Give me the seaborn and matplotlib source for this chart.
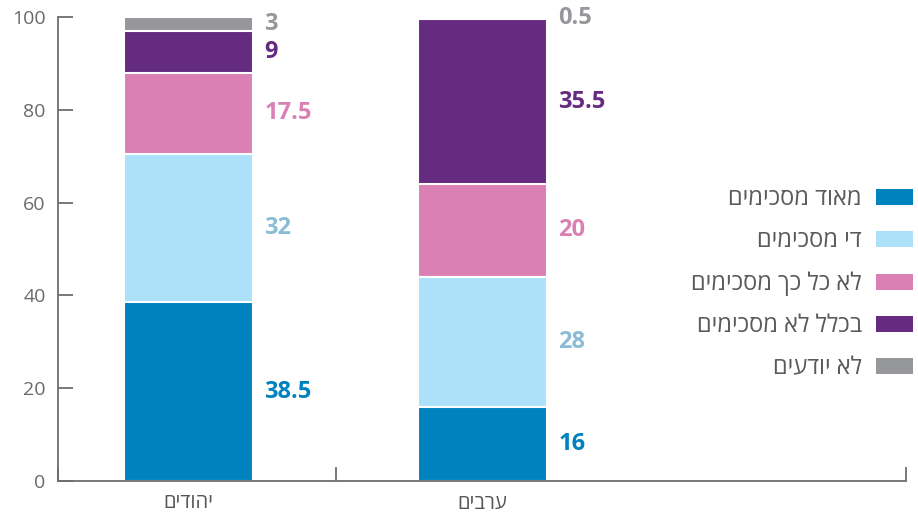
import numpy as np
import pandas as pd
import seaborn as sns
from matplotlib import pyplot as plt
from matplotlib.patches import Patch

# groups (Jews, Arabs) and answer categories, bottom -> top
groups = ['יהודים', 'ערבים']
answers = ['מאוד מסכימים', 'די מסכימים', 'לא כל כך מסכימים', 'בכלל לא מסכימים', 'לא יודעים']
strongly_agree = [38.5, 16]
somewhat_agree = [32, 28]
not_really = [17.5, 20]
not_at_all = [9, 35.5]
dont_know = [3, 0.5]

bar_colors = ['#0082be', '#ade1fa', '#db80b4', '#642b80', '#96979a']
text_colors = ['#0082be', '#8bbcd6', '#db80b4', '#642b80', '#96979a']


def heb(s):
    # matplotlib has no bidi support, so flip hebrew strings for display
    return s[::-1]


sns.set_style('white')
plt.rcParams['font.family'] = ['Open Sans', 'DejaVu Sans']

layers = [strongly_agree, somewhat_agree, not_really, not_at_all, dont_know]
df = pd.DataFrame({heb(a): v for a, v in zip(answers, layers)}, index=[heb(g) for g in groups])
cum = df.cumsum(axis=1)

fig = plt.figure(figsize=(9.18, 5.18), dpi=100)
ax = fig.add_axes([58 / 918, 1 - 481 / 518, 848 / 918, 464 / 518])

bar_w = 0.44
# draw from the top layer down, each bar covering the cumulative total
for col, c in reversed(list(zip(df.columns, bar_colors))):
    sns.barplot(x=cum.index, y=cum[col], color=c, width=bar_w, ax=ax,
                edgecolor='white', linewidth=1.5, saturation=1)

# value labels to the right of each segment
for i in range(len(groups)):
    bottom = 0
    for j, col in enumerate(df.columns):
        v = df.iloc[i][col]
        ax.text(i + bar_w / 2 + 0.037, bottom + v / 2, f'{v:g}', color=text_colors[j],
                fontsize=17, fontweight='bold', ha='left', va='center')
        bottom += v

ax.set_xlim(-0.444, 2.44)
ax.set_ylim(0, 100)
ax.set_xlabel('')
ax.set_ylabel('')

sns.despine(ax=ax, top=True, right=True)
for s in ['left', 'bottom']:
    ax.spines[s].set_color('#6d6d6d')
    ax.spines[s].set_linewidth(1.3)

ax.set_yticks([0, 20, 40, 60, 80, 100])
ax.tick_params(axis='y', direction='in', length=11, width=1.3, color='#6d6d6d',
               labelsize=14, labelcolor='#6a6a6a', pad=9, left=True)
ax.set_xticks([0, 1])
ax.set_xticklabels([heb(g) for g in groups])
ax.set_xticks([-0.444, 0.5, 2.44], minor=True)
ax.tick_params(axis='x', which='major', length=0, labelsize=14.5, labelcolor='#555555', pad=9)
ax.tick_params(axis='x', which='minor', direction='in', length=10, width=1.3,
               color='#6d6d6d', bottom=True)

handles = [Patch(facecolor=c, edgecolor='none') for c in bar_colors]
leg = ax.legend(handles, [heb(a) for a in answers], loc='center right',
                bbox_to_anchor=(1.008, 0.425), frameon=False, markerfirst=False,
                fontsize=17, handlelength=1.57, handleheight=0.67, handletextpad=0.59,
                labelspacing=0.77, borderpad=0, borderaxespad=0)
for t in leg.get_texts():
    t.set_color('#5a5a5a')

fig.savefig('out.png', dpi=100)
